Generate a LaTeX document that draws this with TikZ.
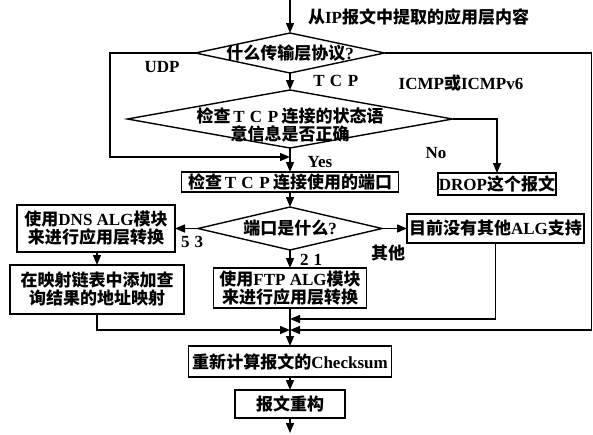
\documentclass[tikz,border=0pt]{standalone}
\usepackage{fontspec}
\setmainfont{Liberation Serif}
\newfontfamily\cjk{Noto Sans CJK SC}
\newfontfamily\lat{Liberation Serif}
\usetikzlibrary{arrows.meta,shapes.geometric}
\newcommand{\fw}[1]{\makebox[17pt]{\lat #1}}
\begin{document}
\begin{tikzpicture}[x=1pt,y=-1pt,
  every node/.style={font=\fontsize{17}{18}\selectfont\cjk\bfseries, inner sep=0pt, outer sep=0pt},
  box/.style={draw, line width=1.4pt, align=center},
  dia/.style={draw, diamond, line width=1.4pt, inner sep=0pt},
  arr/.style={line width=1.4pt, -{Triangle[length=10pt,width=8pt]}}]
\useasboundingbox (0,0) rectangle (593,434);
% coordinates
\coordinate (top) at (290,0);
\coordinate (udpj) at (290,157);
\coordinate (j2) at (290,319);
\coordinate (j3) at (290,330);
\coordinate (bot) at (290,433);
% diamonds
\node[dia, minimum width=189pt, minimum height=40pt] (d1) at (290,53) {};
\node[dia, minimum width=325pt, minimum height=58pt] (d2) at (290,119) {};
\node[dia, minimum width=184pt, minimum height=43pt] (d3) at (290,228.5) {};
\node (d1t) at (290,53) {什么传输层协议{\lat ?}};
\node[align=center] (d2t) at (290,125) {检查\fw{T}\fw{C}\fw{P}连接的状态语\\意信息是否正确};
\node (d3t) at (290,228) {端口是什么{\lat ?}};
% boxes
\node[box, minimum width=217pt, minimum height=20pt] (b3) at (290,182) {检查\fw{T}\fw{C}\fw{P}连接使用的端口};
\node[box, minimum width=118pt, minimum height=22pt] (drop) at (497,184) {{\lat DROP}这个报文};
\node[box, minimum width=158pt, minimum height=47pt] (dns) at (96,228.5) {使用{\lat DNS ALG}模块\\来进行应用层转换};
\node[box, minimum width=177pt, minimum height=29pt] (oth) at (495.5,228.5) {目前没有其他{\lat ALG}支持};
\node[box, minimum width=174pt, minimum height=49pt] (map) at (97,289.5) {在映射链表中添加查\\询结果的地址映射};
\node[box, minimum width=153pt, minimum height=40pt] (ftp) at (290,288) {使用{\lat FTP ALG}模块\\来进行应用层转换};
\node[box, minimum width=203pt, minimum height=31pt] (chk) at (290,361.5) {重新计算报文的{\lat Checksum}};
\node[box, minimum width=110pt, minimum height=28pt] (rec) at (290,404) {报文重构};
% labels
\node[anchor=west] (t0) at (308,17) {从{\lat IP}报文中提取的应用层内容};
\node (lu) at (162,67) {\lat UDP};
\node (lt) at (336,81) {\fw{T}\fw{C}\fw{P}};
\node (lic) at (461,83) {{\lat ICMP}或{\lat ICMPv6}};
\node (lno) at (436,153) {\lat No};
\node (lyes) at (320,162) {\lat Yes};
\node (l53) at (192,242) {\lat 5\hspace{5pt}3};
\node (l21) at (311,260) {\lat 2\hspace{5pt}1};
\node (lot) at (388,253) {其他};
% connectors
\draw[arr] (top) -- (d1.north);
\draw[arr] (d1.west) -- ++(-85.5,0) |- (udpj);
\draw[arr] (d1.east) -- ++(207,0) |- (j3);
\draw[arr] (d1.south) -- (d2.north);
\draw[arr] (d2.east) -| (drop.north);
\draw[arr] (d2.south) -- (b3.north);
\draw[arr] (b3.south) -- (d3.north);
\draw[arr] (d3.west) -- (dns.east);
\draw[arr] (d3.east) -- (oth.west);
\draw[arr] (d3.south) -- (ftp.north);
\draw[arr] (dns.south -| map.north) -- (map.north);
\draw[arr] (map.south) |- (j3);
\draw[arr] (oth.south) |- (j2);
\draw[arr] (ftp.south) -- (chk.north);
\draw[arr] (chk.south) -- (rec.north);
\draw[arr] (rec.south) -- (bot);
\end{tikzpicture}
\end{document}
